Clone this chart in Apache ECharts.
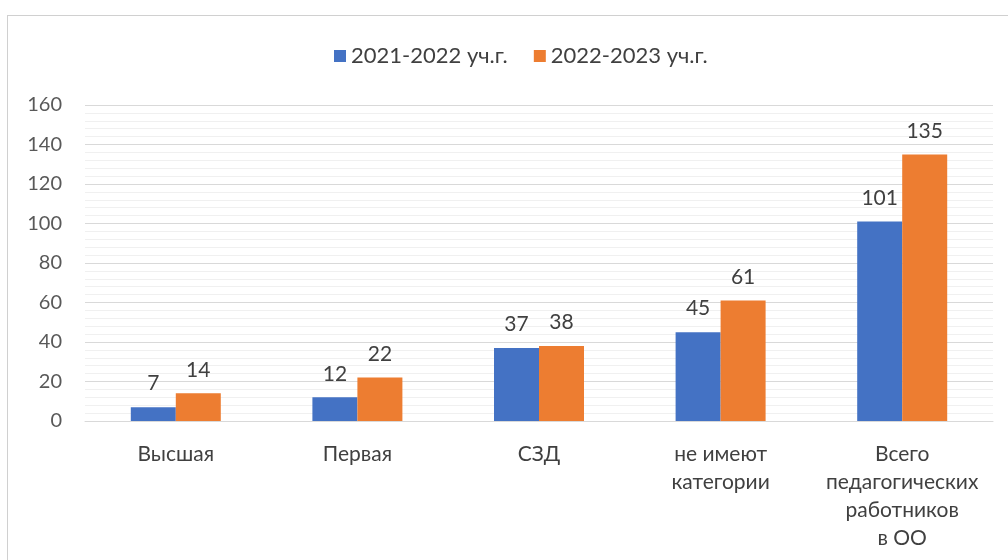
<!DOCTYPE html>
<html>
<head>
<meta charset="utf-8">
<script src="https://cdn.jsdelivr.net/npm/echarts@6/dist/echarts.min.js"></script>
<style>
  html, body { margin: 0; padding: 0; background: #fff; }
  #wrap { position: relative; width: 1008px; height: 560px; overflow: hidden; }
  #frame { position: absolute; left: 7px; top: 15px; width: 1100px; height: 700px; border: 1px solid #d0d0d0; box-sizing: border-box; }
  #chart { position: absolute; left: 0; top: 0; width: 1008px; height: 560px; }
</style>
</head>
<body>
<div id="wrap">
  <div id="frame"></div>
  <div id="chart"></div>
</div>
<script>
const categories = ['Высшая', 'Первая', 'СЗД', 'не имеют\nкатегории', 'Всего\nпедагогических\nработников\nв ОО'];
const seriesNames = ['2021-2022 уч.г.', '2022-2023 уч.г.'];
const values2122 = [7, 12, 37, 45, 101];
const values2223 = [14, 22, 38, 61, 135];
const colors = ['#4472c4', '#ed7d31'];

const chart = echarts.init(document.getElementById('chart'));

const labelStyle = {
  show: true,
  position: 'top',
  distance: 13,
  color: '#404040',
  fontSize: 21,
  fontFamily: 'Lato'
};

const option = {
  animation: false,
  textStyle: { fontFamily: 'Lato' },
  legend: {
    top: 40,
    left: 329,
    itemWidth: 12,
    itemHeight: 12,
    itemGap: 26,
    icon: 'rect',
    textStyle: { fontSize: 22, color: '#404040', fontFamily: 'Lato' },
    data: seriesNames
  },
  grid: {
    left: 85,
    right: 15,
    top: 105,
    bottom: 139,
    containLabel: false
  },
  xAxis: {
    type: 'category',
    data: categories,
    axisLine: { show: true, lineStyle: { color: '#d9d9d9', width: 1 } },
    axisTick: { show: false },
    axisLabel: {
      color: '#404040',
      fontSize: 21,
      fontFamily: 'Lato',
      margin: 19,
      lineHeight: 28,
      interval: 0
    }
  },
  yAxis: {
    type: 'value',
    min: 0,
    max: 160,
    interval: 20,
    axisLine: { show: false },
    axisTick: { show: false },
    axisLabel: {
      color: '#595959',
      fontSize: 20,
      fontFamily: 'Lato',
      margin: 23
    },
    splitLine: { lineStyle: { color: '#d9d9d9', width: 1 } },
    minorTick: { show: false, splitNumber: 5 },
    minorSplitLine: { show: true, lineStyle: { color: '#f0f0f0', width: 1 } }
  },
  series: [
    {
      name: seriesNames[0],
      type: 'bar',
      data: values2122,
      barWidth: 45,
      barGap: '0%',
      itemStyle: { color: colors[0] },
      label: labelStyle
    },
    {
      name: seriesNames[1],
      type: 'bar',
      data: values2223,
      barWidth: 45,
      barGap: '0%',
      itemStyle: { color: colors[1] },
      label: labelStyle
    }
  ]
};

chart.setOption(option);
</script>
</body>
</html>
